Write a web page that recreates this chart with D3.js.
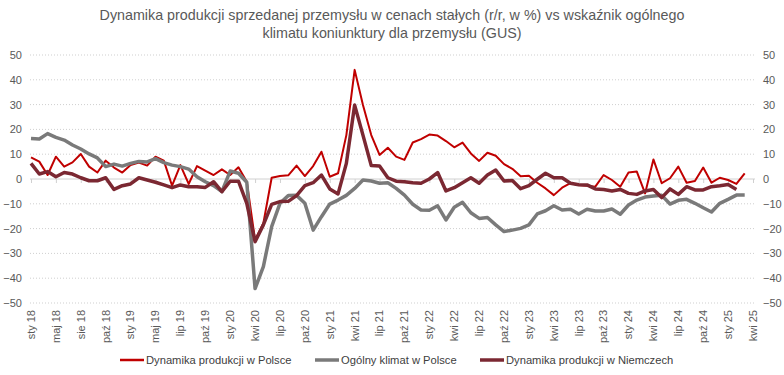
<!DOCTYPE html>
<html>
<head>
<meta charset="utf-8">
<title>Dynamika produkcji vs klimat koniunktury</title>
<script src="https://d3js.org/d3.v7.min.js"></script>
<style>
    body { margin: 0; background: #fff; }
    text { font-family: "Liberation Sans", Arial, sans-serif; }
</style>
</head>
<body>
<svg width="784" height="375" id="mainSvg"></svg>
<script>
// months Jan 2018 .. Apr 2025
const months = d3.timeMonth.range(new Date(2018, 0, 1), new Date(2025, 4, 1));

// labels shown under every 3rd month, as printed in the source chart
const tickLabels = ["sty 18", "maj 18", "sie 18", "paź 18", "sty 19", "maj 19", "lip 19", "paź 19",
    "sty 20", "kwi 20", "lip 20", "paź 20", "sty 21", "kwi 21", "lip 21", "paź 21",
    "sty 22", "kwi 22", "lip 22", "paź 22", "sty 23", "kwi 23", "lip 23", "paź 23",
    "sty 24", "kwi 24", "lip 24", "paź 24", "sty 25", "kwi 25"];

const yTicks = [50, 40, 30, 20, 10, 0, -10, -20, -30, -40, -50];

const seriesNames = ["Dynamika produkcji w Polsce", "Ogólny klimat w Polsce", "Dynamika produkcji w Niemczech"];

// Polish industrial production, y/y %
const prodPL = [8.7, 7, 1.6, 9, 5, 6.7, 10.1, 5, 2.6, 7.4, 4.6, 2.6, 5.6, 6.6, 5.4, 9, 7.4, -2.7, 5.6, -2,
    5.2, 3.4, 1.6, 3.9, 1.6, 4.7, -1.1, -24.6, -17.8, 0.5, 1.2, 1.5, 5.4, 1.2, 5.2, 11, 0.9, 2.3, 17.7, 44,
    29.8, 17.7, 9.7, 12.6, 9, 7.7, 14.7, 16.1, 17.9, 17.5, 15.3, 12.8, 14.7, 10.3, 7.3, 10.6, 9.4, 6, 4.1, 1.1,
    1.3, -1.5, -3.8, -6.5, -3.5, -1.7, -2.4, -2.7, -3.1, 1.6, -0.4, -3.1, 2.6, 3, -5.8, 7.9, -1.7, 0.3, 5, -1.5,
    -0.8, 4.6, -1.5, 0.5, -0.4, -2, 2.3];

// general business climate in Polish industry (GUS)
const climatePL = [16.3, 16.1, 18.3, 16.8, 15.7, 13.7, 12.1, 10.1, 8.5, 5, 6, 5.2, 6.3, 7.1, 6.9, 8.2, 6.6, 5.6, 5, 4,
    0.9, -1.1, -2.7, -5.1, 3.2, 2.3, -1.3, -44.2, -35.3, -19.2, -9.8, -6.7, -6.6, -9.8, -20.6, -15.2, -10.1, -8.5, -6.6, -3.8,
    -0.4, -0.8, -1.7, -1.5, -3.8, -6.5, -10.2, -12.5, -12.6, -10.8, -16.5, -11.4, -9.4, -13.6, -15.9, -15.5, -18.5, -21.2, -20.6, -19.9,
    -18.5, -14.1, -12.8, -10.8, -12.5, -12.2, -14.1, -12.2, -12.9, -12.9, -12.1, -14.2, -10.5, -8.5, -7.3, -6.9, -6.6, -10.1, -8.6, -8.2,
    -9.8, -11.6, -13.3, -9.8, -8.2, -6.5, -6.5];

// German industrial production, y/y %
const prodDE = [6.3, 2, 3, 0.9, 2.6, 2, 0.5, -0.7, -0.7, 0.5, -4.2, -2.7, -2, 0.5, -0.4, -1.3, -2.4, -3.5, -2.4, -3.1,
    -3.1, -3.4, -1.1, -5.1, -0.9, -0.9, -9.8, -25.3, -18.5, -10.2, -9.1, -9, -6.7, -2.7, -1.5, 1.6, -4, -6, 6.3, 29.8,
    17.7, 5.4, 5.2, 0.5, -0.9, -1.1, -1.5, -1.7, 0, 2.6, -4.8, -3.5, -1.5, 0.5, -1.7, 1.6, 3.6, -0.8, -0.6, -3.9,
    -2.7, -0.1, 2.3, 0.5, 0.5, -1.7, -2.3, -2.4, -4, -4.2, -4.8, -4.2, -5.8, -6.2, -4.8, -4.2, -7.5, -4, -6.2, -3.1,
    -4.4, -4.4, -3.1, -2.7, -2.2, -4.2];

const colors = ["#c00000", "#7a7a7a", "#7b2832"];
const widths = [2, 3.5, 3.5];

const svg = d3.select("#mainSvg");
const plot = { left: 30, right: 755, top: 55, bottom: 303 };

const x = d3.scalePoint()
    .domain(d3.range(months.length))
    .range([31, 753]);

const y = d3.scaleLinear()
    .domain([-50, 50])
    .range([plot.bottom, plot.top]);

// title
svg.append("text")
    .attr("x", 392).attr("y", 20)
    .attr("text-anchor", "middle")
    .attr("font-size", 14.3)
    .attr("fill", "#595959")
    .selectAll("tspan")
    .data(["Dynamika produkcji sprzedanej przemysłu w cenach stałych (r/r, w %) vs wskaźnik ogólnego",
           "klimatu koniunktury dla przemysłu (GUS)"])
    .join("tspan")
    .attr("x", 392)
    .attr("dy", (d, i) => i ? 18 : 0)
    .text(d => d);

// gridlines
svg.append("g")
    .selectAll("line")
    .data(yTicks.filter(d => d !== 0))
    .join("line")
    .attr("x1", plot.left).attr("x2", plot.right)
    .attr("y1", d => y(d)).attr("y2", d => y(d))
    .attr("stroke", "#cfcfcf")
    .attr("stroke-width", 1)
    .attr("stroke-dasharray", "1,2");

// left and right value labels
const leftAxis = d3.axisLeft(y).tickValues(yTicks).tickSize(0).tickPadding(8);
const rightAxis = d3.axisRight(y).tickValues(yTicks).tickSize(0).tickPadding(8);
[[leftAxis, plot.left], [rightAxis, plot.right]].forEach(([ax, pos]) => {
    const g = svg.append("g")
        .attr("transform", `translate(${pos},0)`)
        .call(ax);
    g.select(".domain").remove();
    g.selectAll("text")
        .attr("font-size", 11)
        .attr("fill", "#595959")
        .style("font-family", '"Liberation Sans", Arial, sans-serif');
});

// zero line with small ticks
const tickIdx = tickLabels.map((d, i) => i * 3);
const xAxis = d3.axisBottom(x).tickValues(tickIdx).tickSize(4).tickFormat("");
const xg = svg.append("g")
    .attr("transform", `translate(0,${y(0)})`)
    .call(xAxis);
xg.select(".domain")
    .attr("d", `M${plot.left},0H${plot.right}`)
    .attr("stroke", "#d0d0d0");
xg.selectAll(".tick line").attr("stroke", "#d0d0d0");

// month labels at the bottom, rotated
svg.append("g")
    .selectAll("text")
    .data(tickLabels)
    .join("text")
    .attr("transform", (d, i) => `translate(${x(i * 3)},310) rotate(-90)`)
    .attr("text-anchor", "end")
    .attr("dy", "0.35em")
    .attr("font-size", 11)
    .attr("fill", "#595959")
    .text(d => d);

// lines
const line = d3.line()
    .x((d, i) => x(i))
    .y(d => y(d));

svg.append("g")
    .selectAll("path")
    .data([prodPL, climatePL, prodDE])
    .join("path")
    .attr("d", d => line(d))
    .attr("fill", "none")
    .attr("stroke", (d, i) => colors[i])
    .attr("stroke-width", (d, i) => widths[i])
    .attr("stroke-linejoin", "round");

// legend
const legendX = [120, 315, 480];
const legend = svg.append("g")
    .selectAll("g")
    .data(seriesNames)
    .join("g")
    .attr("transform", (d, i) => `translate(${legendX[i]},360)`);
legend.append("line")
    .attr("x1", 0).attr("x2", 24)
    .attr("stroke", (d, i) => colors[i])
    .attr("stroke-width", (d, i) => widths[i] === 2 ? 2.5 : 3.5);
legend.append("text")
    .attr("x", 26)
    .attr("dy", "0.35em")
    .attr("font-size", 11.2)
    .attr("fill", "#404040")
    .text(d => d);
</script>
</body>
</html>
